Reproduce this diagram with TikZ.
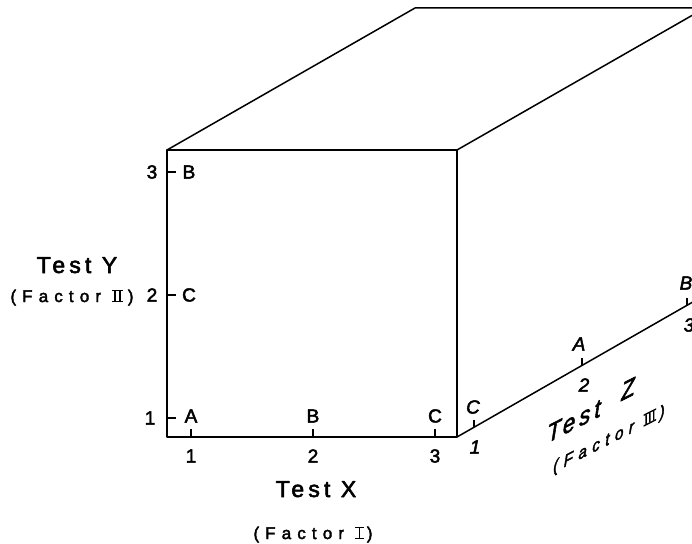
\documentclass[tikz,border=0pt]{standalone}
\usepackage{fontspec}
\setmainfont{Liberation Sans}[FakeBold=2.5]
\newfontfamily\ttl[LetterSpace=18,FakeBold=2.5]{Liberation Sans}
\newfontfamily\fct[LetterSpace=36,FakeBold=2.5]{Liberation Sans}
\newcommand\rmbar[1]{\hrule height 1.5pt width #1}
\newcommand\romone{\vbox{\rmbar{9pt}\hbox to 9pt{\hfill\vrule width 1.5pt height 9.2pt\hfill}\rmbar{9pt}}}
\newcommand\romtwo{\vbox{\rmbar{11pt}\hbox to 11pt{\hskip 2.2pt\vrule width 1.5pt height 9.2pt\hfill\vrule width 1.5pt\hskip 2.2pt}\rmbar{11pt}}}
\newcommand\romthree{\vbox{\rmbar{14pt}\hbox to 14pt{\hskip 2pt\vrule width 1.5pt height 9.2pt\hfill\vrule width 1.5pt\hfill\vrule width 1.5pt\hskip 2pt}\rmbar{14pt}}}
\begin{document}
\begin{tikzpicture}[x=1pt,y=-1pt,line join=round,
  edge/.style={line width=1.5pt},
  tickmark/.style={line width=1.3pt},
  lbl/.style={font=\fontsize{19}{19}\selectfont, inner sep=0pt},
  zlbl/.style={font=\fontsize{19}{19}\selectfont\itshape, inner sep=0pt},
  ttlstyle/.style={font=\fontsize{23}{23}\selectfont\ttl, inner sep=0pt, anchor=base},
  fctstyle/.style={font=\fontsize{17}{17}\selectfont\fct, inner sep=0pt, anchor=base},
  facez/.style={cm={0.891,0.454,0,1,(0,0)}, inner sep=0pt}]
\useasboundingbox (0,0) rectangle (692,543);
\begin{scope}
\clip (0,0) rectangle (692,543);
% cube corners
\coordinate (FTL) at (167,150);
\coordinate (FTR) at (457,150);
\coordinate (FBL) at (167,437);
\coordinate (FBR) at (457,437);
\coordinate (BTL) at (415,8);
\coordinate (BTR) at (705,8);
\coordinate (BBR) at (705,295);
\draw[edge] (FTL) -- (FTR) -- (FBR) -- (FBL) -- cycle;
\draw[edge] (FTL) -- (BTL) -- (BTR) -- (FTR);
\draw[edge] (BTR) -- (BBR) -- (FBR);
% X ticks
\foreach \x/\n in {191/1,313/2,435/3}{
  \coordinate (xt\n) at (\x,437);
  \coordinate (xe\n) at (\x,429);
  \draw[tickmark] (xt\n) -- (xe\n);
}
% Y ticks
\foreach \y/\n in {172/3,295/2,418/1}{
  \coordinate (yt\n) at (167,\y);
  \coordinate (ye\n) at (176,\y);
  \draw[tickmark] (yt\n) -- (ye\n);
}
% Z ticks
\foreach \x/\y/\n in {474/427.3/1,582/365.4/2,687/305.3/3}{
  \coordinate (zt\n) at (\x,\y);
  \coordinate (ze\n) at (\x,\y-7);
  \draw[tickmark] (zt\n) -- (ze\n);
}
% X labels
\node[lbl] (xA) at (191,416) {A};
\node[lbl] (xB) at (313,416) {B};
\node[lbl] (xC) at (435,416) {C};
\node[lbl] (xn1) at (191,456) {1};
\node[lbl] (xn2) at (313,456) {2};
\node[lbl] (xn3) at (435,456) {3};
% Y labels
\node[lbl] (yB) at (189,172) {B};
\node[lbl] (yC) at (189,295) {C};
\node[lbl] (yn3) at (152,172) {3};
\node[lbl] (yn2) at (152,295) {2};
\node[lbl] (yn1) at (150,418) {1};
% Z labels
\node[zlbl] (zC) at (473,407) {C};
\node[zlbl] (zA) at (579,344) {A};
\node[zlbl] (zB) at (686,283) {B};
\node[zlbl] (zn1) at (475,447) {1};
\node[zlbl] (zn2) at (584,385) {2};
\node[zlbl] (zn3) at (689,325) {3};
% titles
\node[ttlstyle] (ty) at (77,273) {Test Y};
\node[fctstyle] (fy) at (72,302) {(Factor \romtwo\hskip 5pt)};
\node[ttlstyle] (tx) at (316,497) {Test X};
\node[fctstyle] (fx) at (313,539) {(Factor \romone\hskip 3pt)};
\node[facez, font=\fontsize{25}{25}\selectfont\ttl\itshape] (tz) at (574,421) {Test};
\node[facez, font=\fontsize{25}{25}\selectfont\itshape] (zz) at (628,389) {Z};
\node[facez, font=\fontsize{17}{17}\selectfont\fct\itshape] (fz) at (609,440) {(Factor \romthree\hskip 4pt)};
\end{scope}
\end{tikzpicture}
\end{document}
